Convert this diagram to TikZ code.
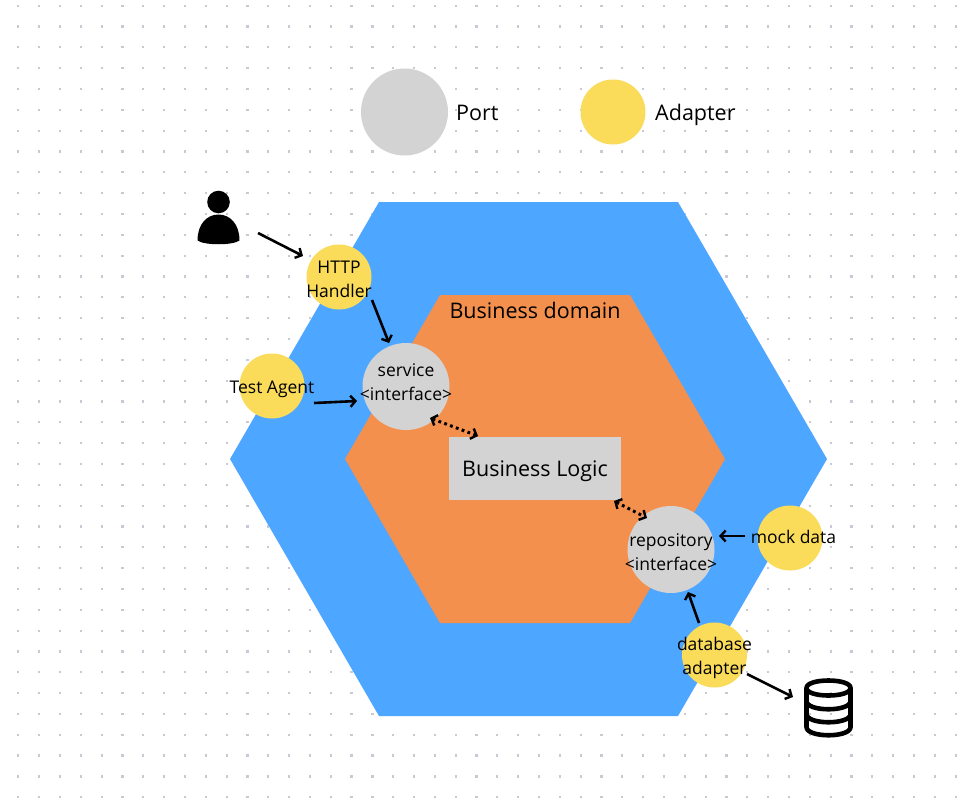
\documentclass[tikz,border=0pt]{standalone}
\usepackage{fontspec}
\setmainfont{Open Sans}
\usetikzlibrary{arrows.meta}
\definecolor{outerblue}{HTML}{4DA6FF}
\definecolor{innerorange}{HTML}{F4904D}
\definecolor{portgray}{HTML}{D3D3D3}
\definecolor{adapteryellow}{HTML}{FADC5A}
\definecolor{dotgray}{HTML}{C9C9D6}
\tikzset{
  x=1pt,y=-1pt,
  port/.style={circle,fill=portgray,minimum size=87pt,inner sep=0pt},
  adapter/.style={circle,fill=adapteryellow,minimum size=65pt,inner sep=0pt},
  lbl/.style={font=\fontsize{17.5}{24}\selectfont,align=center,text=black,inner sep=0pt},
  big/.style={font=\fontsize{21.5}{24}\selectfont,text=black,inner sep=0pt},
  conn/.style={line width=2.6pt,-{Straight Barb[length=5pt,width=11pt,line width=2.4pt]}},
  dotconn/.style={line width=3pt,dash pattern=on 2.8pt off 3.4pt,{Straight Barb[length=5pt,width=11pt,line width=2.4pt]}-{Straight Barb[length=5pt,width=11pt,line width=2.4pt]}},
}
\begin{document}
\begin{tikzpicture}
\useasboundingbox (0,0) rectangle (968,808);
\fill[white] (0,0) rectangle (968,808);
\foreach \i in {0,...,45}{\foreach \j in {0,...,38}{
  \fill[dotgray] ({18.3+20.83*\i-1.1},{5.7+20.83*\j-1.1}) rectangle +(2.2,2.2);
}}
\fill[outerblue] (379,202) -- (678,202) -- (827,459) -- (678,716) -- (379,716) -- (230,459) -- cycle;
\fill[innerorange] (440,295) -- (630,295) -- (725,459) -- (630,623) -- (440,623) -- (345,459) -- cycle;

\node[port] (legendport) at (404.5,112) {};
\node[adapter] (legendadapter) at (613,112) {};
\node[big,anchor=base west] (portlabel) at (456,120) {Port};
\node[big,anchor=base west] (adapterlabel) at (655,120) {Adapter};

\node[big,anchor=base] (domain) at (535,318) {Business domain};
\node[fill=portgray,minimum width=172pt,minimum height=63pt,inner sep=0pt] (logic) at (535,468) {};
\node[big,anchor=base] (logiclabel) at (535,476.5) {Business Logic};

\node[port] (service) at (406,386.5) {};
\node[port] (repo) at (671,549.5) {};
\node[adapter] (http) at (339,277) {};
\node[adapter] (test) at (272,386) {};
\node[adapter] (mock) at (790,538) {};
\node[adapter] (db) at (714.5,655) {};
\node[lbl] (servicelabel) at (406,382) {service\\<interface>};
\node[lbl] (repolabel) at (671,552) {repository\\<interface>};
\node[lbl] (httplabel) at (339,279.5) {HTTP\\Handler};
\node[lbl] (testlabel) at (272,389) {Test Agent};
\node[lbl] (mocklabel) at (793.5,537) {mock data};
\node[lbl] (dblabel) at (714.5,658) {database\\adapter};

% person icon
\fill[black] (218.5,202) circle (11.3);
\fill[black] (197.5,240.5) .. controls (197.5,224) and (207,214.5) .. (218.5,214.5) .. controls (230,214.5) and (239.5,224) .. (239.5,240.5) .. controls (233,245.5) and (204,245.5) .. (197.5,240.5) -- cycle;
\coordinate (person) at (258,233);

% database icon
\begin{scope}[line width=4.6pt,draw=black,fill=none]
\draw (806.5,688) .. controls (806.5,678) and (850.5,678) .. (850.5,688) .. controls (850.5,698) and (806.5,698) .. (806.5,688) -- cycle;
\draw (806.5,688) -- (806.5,727) .. controls (806.5,738) and (850.5,738) .. (850.5,727) -- (850.5,688);
\draw (806.5,701) .. controls (806.5,712) and (850.5,712) .. (850.5,701);
\draw (806.5,714) .. controls (806.5,725) and (850.5,725) .. (850.5,714);
\end{scope}
\coordinate (dbicon) at (793,697);

\draw[conn] (person) -- (303,256);
\draw[conn] (372,300) -- (389,343);
\draw[conn] (314,403) -- (357,401);
\draw[conn] (745,536) -- (719,536);
\draw[conn] (699,623) -- (688,592);
\draw[conn] (747,674) -- (dbicon);
\draw[dotconn] (430,418) -- (478,436);
\draw[dotconn] (614,501) -- (647,518);
\end{tikzpicture}
\end{document}
